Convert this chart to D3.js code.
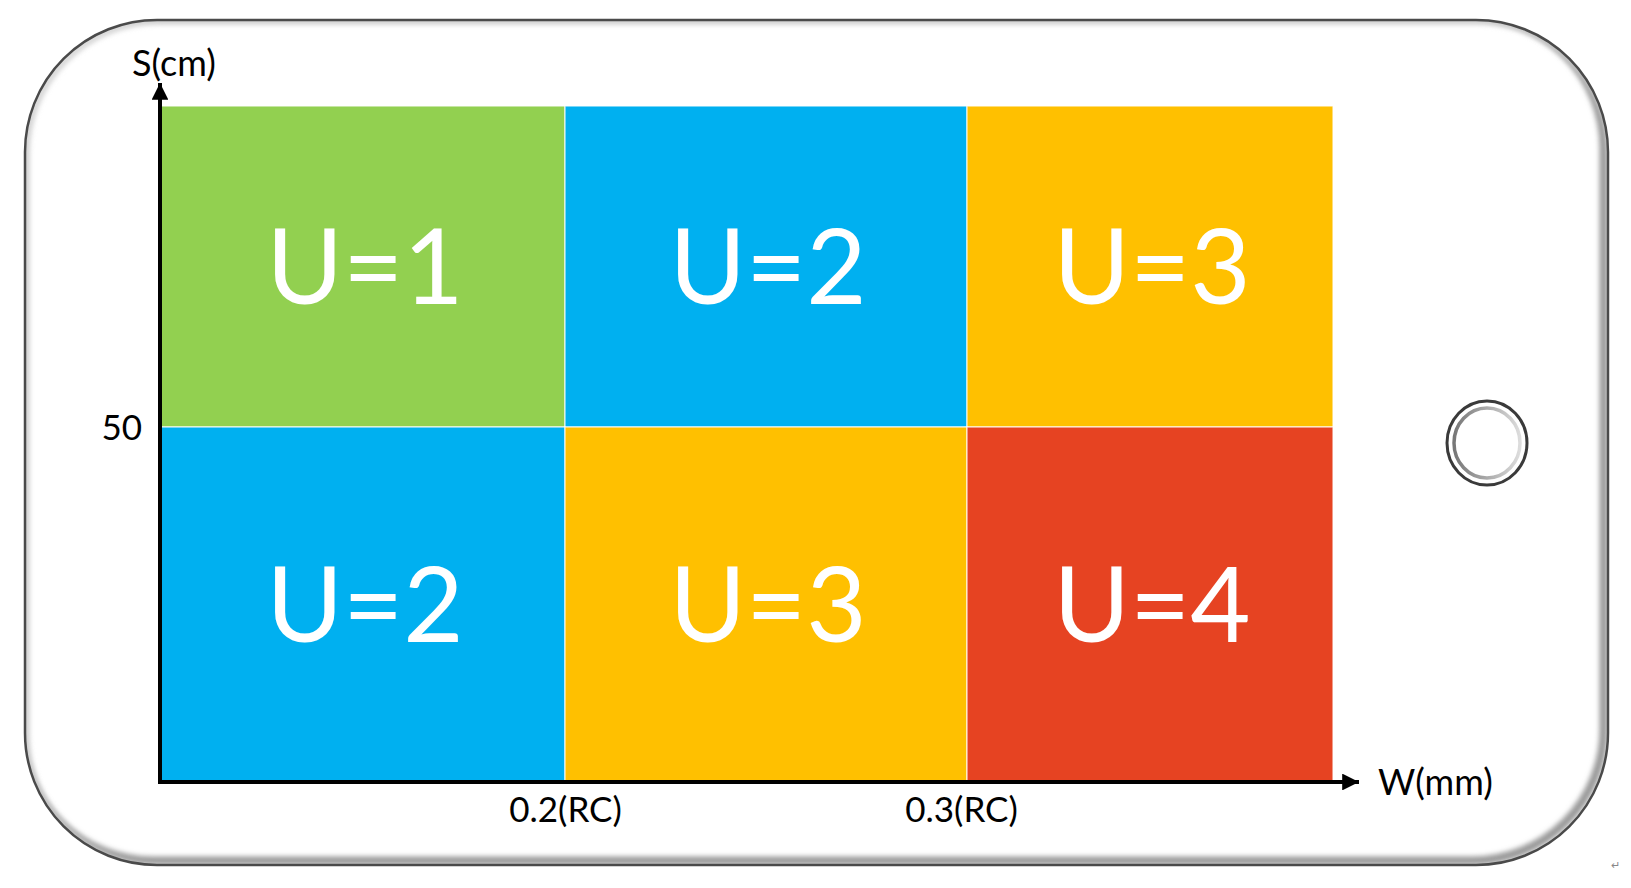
<!DOCTYPE html>
<html>
<head>
<meta charset="utf-8">
<script src="https://cdn.jsdelivr.net/npm/d3@7"></script>
<style>
  html, body { margin: 0; padding: 0; background: #fff; }
  svg { display: block; }
  text { font-family: Lato, "Open Sans", sans-serif; }
</style>
</head>
<body>
<svg id="chart" width="1631" height="888"></svg>
<script>
// ---- data ----
const wEdges = [0, 0.2, 0.3, 0.4];          // W (mm) column edges
const sEdges = [0, 50, 100];                 // S (cm) row edges
const xTickValues = [0.2, 0.3];
const xTickLabels = ["0.2(RC)", "0.3(RC)"];
const yTickValues = [50];
const yTickLabels = ["50"];
const upperRowU = [1, 2, 3];                 // S > 50
const lowerRowU = [2, 3, 4];                 // S <= 50
const uLevels = [1, 2, 3, 4];
const uColors = ["#92D050", "#00B0F0", "#FFC000", "#E64322"];
const xAxisTitle = "W(mm)";
const yAxisTitle = "S(cm)";

// ---- layout ----
const svg = d3.select("#chart");
const x = d3.scaleLinear().domain(wEdges).range([161, 565, 967, 1333]);
const y = d3.scaleLinear().domain(sEdges).range([782, 427, 106]);
const color = d3.scaleOrdinal().domain(uLevels).range(uColors);

const defs = svg.append("defs");

// phone frame
const frame = { x: 25, y: 20, w: 1583, h: 845, r: 132 };
defs.append("clipPath").attr("id", "phoneClip")
  .append("rect").attr("x", frame.x).attr("y", frame.y)
  .attr("width", frame.w).attr("height", frame.h).attr("rx", frame.r).attr("ry", frame.r);
defs.append("filter").attr("id", "blur").attr("x", "-5%").attr("y", "-5%").attr("width", "110%").attr("height", "110%")
  .append("feGaussianBlur").attr("stdDeviation", 2.5);

svg.append("rect").attr("x", frame.x).attr("y", frame.y)
  .attr("width", frame.w).attr("height", frame.h).attr("rx", frame.r).attr("ry", frame.r)
  .attr("fill", "#fff");
// inner bevel shadow (bottom / right)
svg.append("g").attr("clip-path", "url(#phoneClip)")
  .append("rect").attr("x", frame.x - 4).attr("y", frame.y - 4)
  .attr("width", frame.w).attr("height", frame.h).attr("rx", frame.r).attr("ry", frame.r)
  .attr("fill", "none").attr("stroke", "#9a9a9a").attr("stroke-width", 9)
  .attr("filter", "url(#blur)");
svg.append("g").attr("clip-path", "url(#phoneClip)")
  .append("rect").attr("x", frame.x + 2).attr("y", frame.y + 2)
  .attr("width", frame.w).attr("height", frame.h).attr("rx", frame.r).attr("ry", frame.r)
  .attr("fill", "none").attr("stroke", "#d0d0d0").attr("stroke-width", 5)
  .attr("filter", "url(#blur)");
svg.append("rect").attr("x", frame.x).attr("y", frame.y)
  .attr("width", frame.w).attr("height", frame.h).attr("rx", frame.r).attr("ry", frame.r)
  .attr("fill", "none").attr("stroke", "#4a4a4a").attr("stroke-width", 2.5);

// home button
const btn = svg.append("g").attr("transform", "translate(1487,443)");
const grad = defs.append("linearGradient").attr("id", "btnGrad")
  .attr("x1", "0%").attr("x2", "100%").attr("y1", "0%").attr("y2", "0%");
grad.append("stop").attr("offset", "0%").attr("stop-color", "#777");
grad.append("stop").attr("offset", "100%").attr("stop-color", "#ddd");
btn.append("ellipse").attr("rx", 40).attr("ry", 42)
  .attr("fill", "#fff").attr("stroke", "#3a3a3a").attr("stroke-width", 3);
btn.append("ellipse").attr("rx", 33).attr("ry", 35)
  .attr("fill", "#fff").attr("stroke", "url(#btnGrad)").attr("stroke-width", 3.5);

// cells
const cells = [];
upperRowU.forEach((u, i) => cells.push({ c: i, s0: sEdges[1], s1: sEdges[2], u }));
lowerRowU.forEach((u, i) => cells.push({ c: i, s0: sEdges[0], s1: sEdges[1], u }));

svg.append("g").selectAll("rect").data(cells).join("rect")
  .attr("x", d => x(wEdges[d.c]))
  .attr("y", d => y(d.s1))
  .attr("width", d => x(wEdges[d.c + 1]) - x(wEdges[d.c]))
  .attr("height", d => y(d.s0) - y(d.s1))
  .attr("fill", d => color(d.u))
  .attr("stroke", "#ffffff").attr("stroke-opacity", 0.8).attr("stroke-width", 1.2);

const fs = 104;
svg.append("g").selectAll("text").data(cells).join("text")
  .attr("x", d => (x(wEdges[d.c]) + x(wEdges[d.c + 1])) / 2 + 2)
  .attr("y", d => (y(d.s0) + y(d.s1)) / 2 + fs * 0.358)
  .attr("text-anchor", "middle")
  .attr("fill", "#fff")
  .attr("font-size", fs)
  .text(d => "U=" + d.u);

// axes with arrows
defs.append("marker").attr("id", "arrow")
  .attr("viewBox", "0 0 10 10").attr("refX", 10).attr("refY", 5)
  .attr("markerWidth", 4.2).attr("markerHeight", 4.2).attr("markerUnits", "strokeWidth")
  .attr("orient", "auto")
  .append("path").attr("d", "M0,0 L10,5 L0,10 Z").attr("fill", "#000");

const x0 = x(wEdges[0]) - 1, y0 = y(sEdges[0]);
svg.append("line").attr("x1", x0 - 2).attr("y1", y0).attr("x2", 1359).attr("y2", y0)
  .attr("stroke", "#000").attr("stroke-width", 4).attr("marker-end", "url(#arrow)");
svg.append("line").attr("x1", x0).attr("y1", y0 + 2).attr("x2", x0).attr("y2", 83)
  .attr("stroke", "#000").attr("stroke-width", 4).attr("marker-end", "url(#arrow)");

// tick labels via d3 axes
const xAxis = d3.axisBottom(x).tickValues(xTickValues).tickSize(0)
  .tickFormat((d, i) => xTickLabels[i]);
const gx = svg.append("g").attr("transform", `translate(0,${y0})`).call(xAxis);
gx.select(".domain").remove();
gx.selectAll("text").attr("font-size", 35).attr("fill", "#000")
  .attr("font-family", "Lato, 'Open Sans', sans-serif")
  .attr("dy", null).attr("y", 40).attr("dx", (d, i) => i === 1 ? -6 : 0);

const yAxis = d3.axisLeft(y).tickValues(yTickValues).tickSize(0)
  .tickFormat((d, i) => yTickLabels[i]);
const gy = svg.append("g").attr("transform", `translate(${x0},0)`).call(yAxis);
gy.select(".domain").remove();
gy.selectAll("text").attr("font-size", 35).attr("fill", "#000")
  .attr("font-family", "Lato, 'Open Sans', sans-serif")
  .attr("x", -18).attr("dy", "0.36em");

// axis titles
svg.append("text").attr("x", 1378).attr("y", 795).attr("font-size", 36).attr("fill", "#000").text(xAxisTitle);
svg.append("text").attr("x", 132).attr("y", 76).attr("font-size", 36).attr("fill", "#000").text(yAxisTitle);

// paragraph mark
svg.append("text").attr("x", 1611).attr("y", 869).attr("font-size", 11).attr("fill", "#888").text("↵");
</script>
</body>
</html>
